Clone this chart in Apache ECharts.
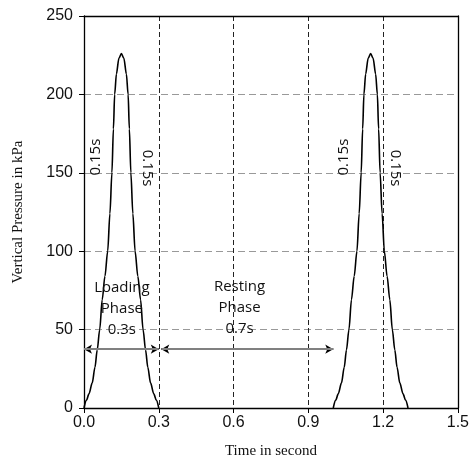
<!DOCTYPE html>
<html>
<head>
<meta charset="utf-8">
<script src="https://cdn.jsdelivr.net/npm/echarts@6/dist/echarts.min.js"></script>
<style>html,body{margin:0;padding:0;background:#fff}#c{width:472px;height:464px}</style>
</head>
<body>
<div id="c"></div>
<script>
const xTicks = [0, 0.3, 0.6, 0.9, 1.2, 1.5];
const yTicks = [0, 50, 100, 150, 200, 250];
const pulse1Time = [0, 0.01, 0.02, 0.033, 0.044, 0.053, 0.063, 0.073, 0.084, 0.095, 0.104, 0.112, 0.118, 0.123, 0.13, 0.14, 0.15, 0.16, 0.17, 0.177, 0.182, 0.188, 0.196, 0.205, 0.216, 0.227, 0.237, 0.247, 0.256, 0.267, 0.28, 0.29, 0.3];
const pulse1Pressure = [0, 5, 9, 16, 26, 37, 50, 69, 84, 100, 124, 150, 178, 200, 213, 223, 226, 223, 213, 200, 178, 150, 124, 100, 84, 69, 50, 37, 26, 16, 9, 5, 0];
const pulse2Time = [1.0, 1.01, 1.02, 1.033, 1.044, 1.053, 1.063, 1.073, 1.084, 1.095, 1.104, 1.112, 1.118, 1.123, 1.13, 1.14, 1.15, 1.16, 1.17, 1.177, 1.182, 1.188, 1.196, 1.205, 1.216, 1.227, 1.237, 1.247, 1.256, 1.267, 1.28, 1.29, 1.3];
const pulse2Pressure = [0, 5, 9, 16, 26, 37, 50, 69, 84, 100, 124, 150, 178, 200, 213, 223, 226, 223, 213, 200, 178, 150, 124, 100, 84, 69, 50, 37, 26, 16, 9, 5, 0];
const phaseArrows = [[0, 0.3], [0.31, 1.0]];
const arrowLevel = 37.5;
const durationLabels = [
  {text: '0.15s', at: [0.048, 160], rotate: 90},
  {text: '0.15s', at: [0.252, 153], rotate: -90},
  {text: '0.15s', at: [1.044, 160], rotate: 90},
  {text: '0.15s', at: [1.248, 153], rotate: -90}
];
const phaseLabels = [
  {text: 'Loading\nPhase\n0.3s', at: [0.152, 63]},
  {text: 'Resting\nPhase\n0.7s', at: [0.624, 64]}
];

const zip = (a, b) => a.map((v, i) => [v, b[i]]);
const chart = echarts.init(document.getElementById('c'), null, {renderer: 'canvas'});
const labelFont = 'Liberation Sans, Arial, sans-serif';
const annFont = 'Open Sans, Noto Sans, sans-serif';
const serif = 'Liberation Serif, Times New Roman, serif';

const markPts = durationLabels.map(d => ({
  coord: d.at, symbolSize: 0,
  label: {show: true, formatter: d.text, rotate: d.rotate, position: 'inside', fontFamily: annFont, fontSize: 15, color: '#111'}
})).concat(phaseLabels.map(d => ({
  coord: d.at, symbolSize: 0,
  label: {show: true, formatter: d.text, position: 'inside', align: 'center', verticalAlign: 'middle', lineHeight: 21, fontFamily: annFont, fontSize: 15, color: '#111'}
})));

const arrowData = phaseArrows.map(a => [{coord: [a[0], arrowLevel]}, {coord: [a[1], arrowLevel]}]);

chart.setOption({
  animation: false,
  grid: {left: 84, right: 13, top: 16, bottom: 56, show: false},
  xAxis: [{
    type: 'value', min: 0, max: 1.5, interval: 0.3,
    name: 'Time in second', nameLocation: 'middle', nameGap: 36,
    nameTextStyle: {fontFamily: serif, fontSize: 15, color: '#111'},
    axisLine: {show: true, lineStyle: {color: '#000', width: 1.3}},
    axisTick: {show: true, inside: false, length: 5, lineStyle: {color: '#000'}},
    axisLabel: {fontFamily: labelFont, fontSize: 16, color: '#111', margin: 7, formatter: v => v.toFixed(1)},
    splitLine: {show: true, lineStyle: {color: '#222', type: [5, 3], width: 1}}
  }, {
    type: 'value', min: 0, max: 1.5, position: 'top', z: 10,
    axisLine: {show: true, onZero: false, lineStyle: {color: '#000', width: 1.3}},
    axisTick: {show: false}, axisLabel: {show: false}, splitLine: {show: false}
  }],
  yAxis: [{
    type: 'value', min: 0, max: 250, interval: 50,
    name: 'Vertical Pressure in kPa', nameLocation: 'middle', nameGap: 58,
    nameTextStyle: {fontFamily: serif, fontSize: 15, color: '#111'},
    axisLine: {show: true, lineStyle: {color: '#000', width: 1.3}},
    axisTick: {show: true, inside: false, length: 5, lineStyle: {color: '#000'}},
    axisLabel: {fontFamily: labelFont, fontSize: 16, color: '#111', margin: 11},
    splitLine: {show: true, lineStyle: {color: '#999', type: [7, 4], width: 1}}
  }, {
    type: 'value', min: 0, max: 250, position: 'right', z: 10,
    axisLine: {show: true, onZero: false, lineStyle: {color: '#000', width: 1.3}},
    axisTick: {show: false}, axisLabel: {show: false}, splitLine: {show: false}
  }],
  series: [{
    type: 'line', data: zip(pulse1Time, pulse1Pressure), showSymbol: false, smooth: 0.3, smoothMonotone: 'x',
    lineStyle: {color: '#000', width: 1.6}, z: 6,
    markLine: {
      silent: true, z: 7, symbol: ['none', 'none'],
      lineStyle: {color: '#808080', width: 2, type: 'solid'},
      label: {show: false},
      data: arrowData
    },
    markPoint: {silent: true, z: 8, symbol: 'circle', data: markPts}
  }, {
    type: 'line', data: zip(pulse2Time, pulse2Pressure), showSymbol: false, smooth: 0.3, smoothMonotone: 'x',
    lineStyle: {color: '#000', width: 1.6}, z: 5,
    markLine: {
      silent: true, z: 4, symbol: ['arrow', 'arrow'], symbolSize: [7, 8],
      lineStyle: {color: '#000', width: 2, type: 'solid'},
      label: {show: false},
      data: arrowData
    }
  }]
});
</script>
</body>
</html>
